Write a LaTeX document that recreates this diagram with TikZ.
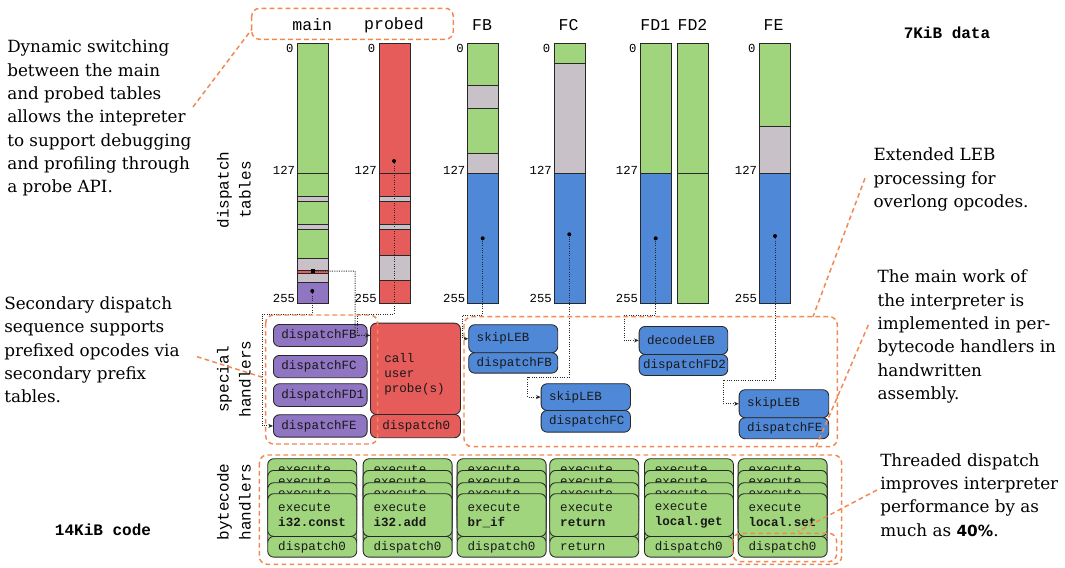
\documentclass[tikz,border=0pt]{standalone}
\usepackage{fontspec}
\setmainfont{DejaVu Serif}
\setmonofont{Liberation Mono}
\newfontfamily\pctfont{DejaVu Sans}
\usetikzlibrary{arrows.meta,calc}
\definecolor{greenC}{RGB}{161,213,125}
\definecolor{grayC}{RGB}{200,194,200}
\definecolor{redC}{RGB}{229,92,91}
\definecolor{blueC}{RGB}{80,136,216}
\definecolor{purpleC}{RGB}{143,117,194}
\definecolor{orangeC}{RGB}{240,136,80}
\definecolor{lineC}{RGB}{40,40,40}
\newcommand\hbx[8]{%
  \pgfmathsetmacro\hbtw{(#4-2*#7)*0.75}%
  \pgfmathsetmacro\hbh{#5*0.75}%
  \pgfmathsetmacro\hbp{#7*0.75}%
  \node[hb,fill=#6,text width=\hbtw pt,inner xsep=\hbp pt,minimum height=\hbh pt] (#1) at (#2,#3) {#8};}
\newcommand\backcard[3]{%
  \hbx{#1e}{#2}{#3}{89}{42.7}{greenC}{10.5}{\raisebox{5pt}[0pt][0pt]{execute}}%
  \hbx{#1d}{#2}{#3+42.7}{89}{20.7}{greenC}{10.5}{}}
\newcommand\frontcard[5]{%
  \hbx{#1e}{#2}{#3}{89}{42.7}{greenC}{10.5}{execute\\\textbf{#4}}%
  \hbx{#1d}{#2}{#3+42.7}{89}{20.7}{greenC}{10.5}{#5}}
\newcommand\stack[4]{%
  \backcard{#1a}{#2}{458.3}
  \backcard{#1b}{#2}{470}
  \backcard{#1c}{#2}{482.3}
  \frontcard{#1f}{#2}{493.3}{#3}{#4}}
\newcommand\seg[4]{\filldraw[seg,fill=#4] (#1,#2) rectangle (#1+31,#3);}
\begin{document}
\begin{tikzpicture}[x=0.75pt,y=-0.75pt,
  seg/.style={draw=lineC,line width=0.55pt},
  hb/.style={draw=lineC,line width=0.65pt,rounded corners=4.5pt,
    font=\ttfamily\fontsize{9.4}{11.25}\selectfont,align=left,
    inner ysep=0pt,anchor=north west,text=black!90},
  hl/.style={draw=orangeC,line width=1.1pt,dash pattern=on 3.5pt off 2.5pt},
  hlbox/.style={hl,rounded corners=6pt},
  conn/.style={draw=lineC,densely dotted,line width=0.75pt,
    -{Stealth[length=3.5pt,width=3pt]}},
  dotc/.style={fill=black,circle,inner sep=0pt,minimum size=3pt},
  head/.style={font=\ttfamily\fontsize{12.4}{14}\selectfont},
  num/.style={font=\ttfamily\fontsize{9.2}{11}\selectfont,anchor=east,inner sep=0pt},
  side/.style={font=\ttfamily\fontsize{12}{16.5}\selectfont,rotate=90,align=center},
  txt/.style={font=\fontsize{12.6}{17.5}\selectfont,align=left,anchor=north west,inner sep=0pt}]
\useasboundingbox (0,0) rectangle (1065,568);
% ---------- dispatch tables ----------
% main
\seg{297.3}{43.3}{173.3}{greenC}
\seg{297.3}{173.3}{196}{greenC}
\seg{297.3}{196}{201.7}{grayC}
\seg{297.3}{201.7}{224}{greenC}
\seg{297.3}{224}{229.3}{grayC}
\seg{297.3}{229.3}{258.3}{greenC}
\seg{297.3}{258.3}{270}{grayC}
\seg{297.3}{270}{273.3}{redC}
\seg{297.3}{273.3}{282.7}{grayC}
\seg{297.3}{282.7}{303.3}{purpleC}
% probed
\seg{379}{43.3}{173.3}{redC}
\seg{379}{173.3}{196}{redC}
\seg{379}{196}{201.7}{grayC}
\seg{379}{201.7}{224}{redC}
\seg{379}{224}{229.3}{grayC}
\seg{379}{229.3}{255.7}{redC}
\seg{379}{255.7}{280}{grayC}
\seg{379}{280}{303.3}{redC}
% FB
\seg{467.5}{43.3}{85}{greenC}
\seg{467.5}{85}{108.3}{grayC}
\seg{467.5}{108.3}{153.3}{greenC}
\seg{467.5}{153.3}{173.3}{grayC}
\seg{467.5}{173.3}{303.3}{blueC}
% FC
\seg{554}{43.3}{63.3}{greenC}
\seg{554}{63.3}{173.3}{grayC}
\seg{554}{173.3}{303.3}{blueC}
% FD1
\seg{640.3}{43.3}{173.3}{greenC}
\seg{640.3}{173.3}{303.3}{blueC}
% FD2
\seg{677.3}{43.3}{173.3}{greenC}
\seg{677.3}{173.3}{303.3}{greenC}
% FE
\seg{759.3}{43.3}{126.7}{greenC}
\seg{759.3}{126.7}{173.3}{grayC}
\seg{759.3}{173.3}{303.3}{blueC}
% headers
\node[head] (hmain) at (312.3,25) {main};
\node[head] (hprobed) at (394,25) {probed};
\node[head] (hFB) at (482,25) {FB};
\node[head] (hFC) at (568.5,25) {FC};
\node[head] (hFD1) at (655.3,25) {FD1};
\node[head] (hFD2) at (692.5,25) {FD2};
\node[head] (hFE) at (773.5,25) {FE};
% numbers
\foreach \cx/\nm in {297.3/m,379/p,467.5/b,554/c,640.3/d,759.3/e}{
  \node[num] (n0\nm) at (\cx-3.5,48) {0};
  \node[num] (n1\nm) at (\cx-2,170) {127};
  \node[num] (n2\nm) at (\cx-2,298) {255};
}
% side labels
\node[side] (sdt) at (234,190) {dispatch\\tables};
\node[side] (ssh) at (234,379) {special\\handlers};
\node[side] (sbh) at (234,502) {bytecode\\handlers};
\node[font=\ttfamily\bfseries\fontsize{12}{14}\selectfont] (kdata) at (947,33) {7KiB data};
\node[font=\ttfamily\bfseries\fontsize{12}{14}\selectfont] (kcode) at (103,530) {14KiB code};
% ---------- special handlers ----------
\hbx{dFB}{273}{324}{93.7}{22}{purpleC}{8}{dispatchFB}
\hbx{dFC}{273}{355}{93.7}{22.3}{purpleC}{8}{dispatchFC}
\hbx{dFD}{273}{383.3}{93.7}{22.7}{purpleC}{8}{dispatchFD1}
\hbx{dFE}{273}{414.3}{93.7}{22.4}{purpleC}{8}{dispatchFE}
\hbx{probe}{370}{322.7}{90}{91.3}{redC}{8}{}
\node[hb,draw=none,fill=none,anchor=west,inner xsep=0pt] (probeTxt) at (384,374.5) {call\\user\\probe(s)};
\hbx{probeD}{370}{414}{90}{23.3}{redC}{12}{dispatch0}
\hbx{skipFB}{468.3}{324.3}{89}{28}{blueC}{8}{skipLEB}
\hbx{dspFB}{468.3}{352.3}{89}{20.4}{blueC}{8}{dispatchFB}
\hbx{skipFC}{540.7}{383.3}{89.3}{26.7}{blueC}{8}{skipLEB}
\hbx{dspFC}{540.7}{410}{89.3}{21.7}{blueC}{8}{dispatchFC}
\hbx{decode}{638.7}{326}{88.6}{28}{blueC}{8}{decodeLEB}
\hbx{dspFD}{638.7}{354}{88.6}{21}{blueC}{4}{dispatchFD2}
\hbx{skipFE}{738.7}{389.3}{89.6}{28}{blueC}{8}{skipLEB}
\hbx{dspFE}{738.7}{417.3}{89.6}{21}{blueC}{8}{dispatchFE}
% ---------- bytecode handlers ----------
\stack{k1}{267.3}{i32.const}{dispatch0}
\stack{k2}{362.7}{i32.add}{dispatch0}
\stack{k3}{456.7}{br\_if}{dispatch0}
\stack{k4}{549.3}{return}{return}
\stack{k5}{644}{local.get}{dispatch0}
\stack{k6}{737.7}{local.set}{dispatch0}
% ---------- connectors ----------
\coordinate (pMR) at (313.3,271);
\coordinate (pMP) at (312.3,291);
\coordinate (pPR) at (394,161);
\coordinate (pFB) at (482.7,238.3);
\coordinate (pFC) at (569.3,234.3);
\coordinate (pFD) at (655.7,238.3);
\coordinate (pFE) at (775,236);
\coordinate (probeIn) at (probe.west |- dFB.east);
\draw[conn] (pMP) |- (262.3,314) |- (dFE.west);
\draw[conn] (pPR) |- (357.5,314) |- (probeIn);
\draw[conn] (pMR) -| (355,335) -- (probeIn);
\draw[conn] (pFB) |- (462.7,315) |- (skipFB.west);
\draw[conn] (pFC) |- (527.7,377.3) |- (skipFC.west);
\draw[conn] (pFD) |- (624,315) |- (decode.west);
\draw[conn] (pFE) |- (723.3,380) |- (skipFE.west);
\node[fill=black,inner sep=0pt,minimum size=3pt] (dMR) at (pMR) {};
\foreach \p in {pMP,pPR,pFB,pFC,pFD,pFE}{\node[dotc] (d\p) at (\p) {};}
% ---------- highlight boxes ----------
\draw[hlbox] (251.7,8.3) rectangle (453.3,39.3);
\draw[hlbox] (265.7,315) rectangle (377.7,444);
\draw[hlbox] (464,316.7) rectangle (837.3,446.7);
\draw[hlbox] (259.3,455) rectangle (841.7,564.3);
\draw[hlbox] (732.7,533.3) rectangle (836.7,561.7);
% ---------- annotations ----------
\node[txt] (t1) at (7,39.9) {Dynamic switching\\between the main\\and probed tables\\allows the intepreter\\to support debugging\\and profiling through\\a probe API.};
\node[txt] (t2) at (4,296.5) {Secondary dispatch\\sequence supports\\prefixed opcodes via\\secondary prefix\\tables.};
\node[txt] (t3) at (873.3,147.9) {Extended LEB\\processing for\\overlong opcodes.};
\node[txt] (t4) at (877.3,269.9) {The main work of\\the interpreter is\\implemented in per-\\bytecode handlers in\\handwritten\\assembly.};
\node[txt] (t5) at (880,453.2) {Threaded dispatch\\improves interpreter\\performance by as\\much as {\pctfont\bfseries\fontsize{11.5}{17.5}\selectfont 40\%}.};
\coordinate (a1) at (193,107); \coordinate (b1) at (252,29);
\coordinate (a2) at (197,356.7); \coordinate (b2) at (265.7,378.3);
\coordinate (a3) at (865,178.3); \coordinate (b3) at (813,316.7);
\coordinate (a4) at (868.3,325); \coordinate (b4) at (816,446.7);
\coordinate (a5) at (877,490); \coordinate (b5) at (798,531.5);
\draw[hl] (a1) -- (b1);
\draw[hl] (a2) -- (b2);
\draw[hl] (a3) -- (b3);
\draw[hl] (a4) -- (b4);
\draw[hl] (a5) -- (b5);
\end{tikzpicture}
\end{document}
